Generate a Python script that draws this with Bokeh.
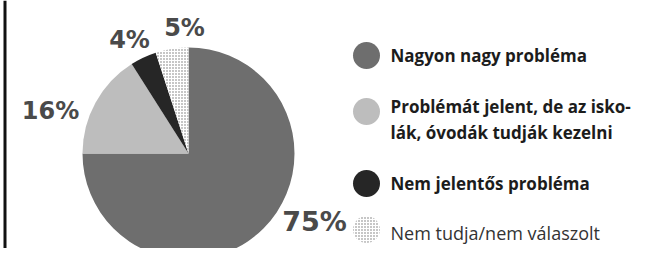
import math
from bokeh.plotting import figure
from bokeh.models import Range1d, ColumnDataSource, Span
from bokeh.embed import file_html
from bokeh.resources import INLINE
from bokeh.core.properties import value

# ---- data ----
categories = [
    "Nagyon nagy probléma",
    "Problémát jelent, de az isko-\nlák, óvodák tudják kezelni",
    "Nem jelentős probléma",
    "Nem tudja/nem válaszolt",
]
values = [75, 16, 4, 5]
pct_labels = ["75%", "16%", "4%", "5%"]

# ---- styles / layout ----
colors = ["#6e6e6e", "#bdbdbd", "#262626", "#ffffff"]
hatches = ["blank", "blank", "blank", "dot"]
legend_bold = [True, True, True, False]

W, H = 631, 248
cx, cy, R = 188, -153, 106
label_x = [314, 50, 129, 184]
label_y = [-221, -110, -39, -27]
label_size = ["27px", "24px", "24px", "24px"]
legend_cx = 366
legend_cy = [-55, -111, -183, -229]
legend_tx = 390
legend_line_y = [[-55], [-106, -132], [-183], [-232]]

p = figure(width=W, height=H, output_backend="svg", toolbar_location=None,
           x_range=Range1d(0, W), y_range=Range1d(-H, 0),
           min_border=0, outline_line_color=None)
p.axis.visible = False
p.grid.visible = False
p.background_fill_color = "white"
p.border_fill_color = "white"

# wedges
total = sum(values)
starts, ends = [], []
cum = 0
for v in values:
    s = math.pi / 2 - 2 * math.pi * cum / total
    e = s - 2 * math.pi * v / total
    starts.append(s)
    ends.append(e)
    cum += v

src = ColumnDataSource(dict(x=[cx] * len(values), y=[cy] * len(values),
                            start=starts, end=ends, color=colors, hatch=hatches))
p.wedge(x="x", y="y", radius=R, start_angle="start", end_angle="end",
        direction="clock", fill_color="color", line_color=None,
        hatch_pattern="hatch", hatch_color="#707070", hatch_scale=3,
        hatch_weight=1, source=src)

# percentage labels
lsrc = ColumnDataSource(dict(x=label_x, y=label_y, t=pct_labels, s=label_size))
p.text(x="x", y="y", text="t", text_font_size="s", source=lsrc,
       text_font=value("DejaVu Sans"), text_font_style="bold",
       text_color="#4a4a4a", text_align="center", text_baseline="middle")

# legend markers
msrc = ColumnDataSource(dict(x=[legend_cx] * len(values), y=legend_cy,
                             color=colors, hatch=hatches))
p.scatter(x="x", y="y", size=27, marker="circle", fill_color="color",
          line_color=None, hatch_pattern="hatch", hatch_color="#707070",
          hatch_scale=3, hatch_weight=1, source=msrc)

# legend texts
for cat, ys, bold in zip(categories, legend_line_y, legend_bold):
    lines = cat.split("\n")
    p.text(x=[legend_tx] * len(lines), y=ys, text=lines,
           text_font=value("Open Sans"),
           text_font_style="bold" if bold else "normal",
           text_font_size="17px" if bold else "18px",
           text_color="#1c1c1c" if bold else "#333333",
           text_align="left", text_baseline="middle")

# left rule
p.add_layout(Span(location=4.5, dimension="height", line_color="#111111", line_width=3))

open("out.html", "w").write(file_html(p, INLINE))
